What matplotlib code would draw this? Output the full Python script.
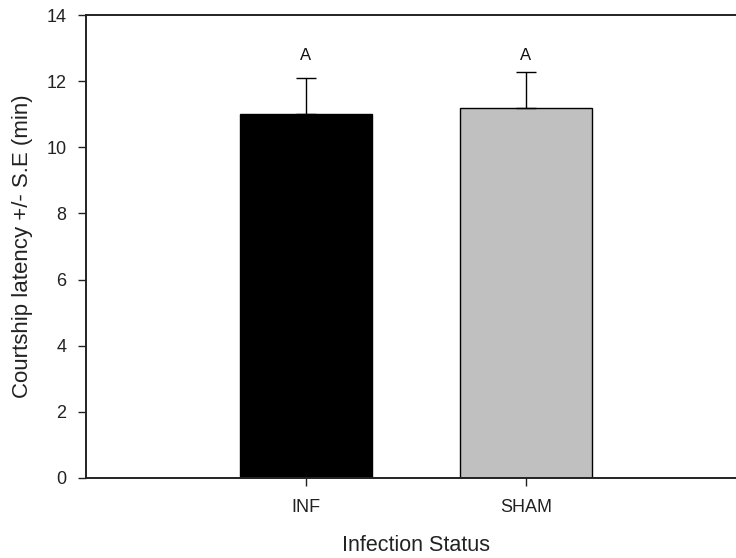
import matplotlib
matplotlib.use("Agg")
import matplotlib.pyplot as plt

plt.rcParams['font.family'] = ['Liberation Sans', 'DejaVu Sans']

categories = ["INF", "SHAM"]
means = [11.0, 11.2]
std_errors = [1.08, 1.09]
group_letters = ["A", "A"]
bar_colors = ["#000000", "#c0c0c0"]
y_ticks = [0, 2, 4, 6, 8, 10, 12, 14]

fig = plt.figure(figsize=(7.36, 5.58), dpi=100)
ax = fig.add_axes([86 / 736, 80 / 558, 660 / 736, 463 / 558])

positions = [1, 2]
ax.bar(positions, means, width=0.6, color=bar_colors, edgecolor="black",
       linewidth=1.0, zorder=2)
ax.errorbar(positions, means, yerr=[[0, 0], std_errors], fmt="none",
            ecolor="black", elinewidth=1.0, capsize=7, capthick=1.0, zorder=3)

# significance-group letters share one row above the bars
letter_row = 12.55
for x, letter in zip(positions, group_letters):
    ax.text(x, letter_row, letter, ha="center", va="bottom", fontsize=12,
            color="#111111")

ax.set_xlim(0, 3)
ax.set_ylim(0, 14)
ax.set_xticks(positions)
ax.set_xticklabels(categories)
ax.set_yticks(y_ticks)
ax.set_yticklabels([str(t) for t in y_ticks])

ax.tick_params(axis="both", direction="out", length=6, width=1.0,
               labelsize=13, colors="#222222")
ax.tick_params(axis="y", pad=8)
ax.tick_params(axis="x", pad=9)

for side in ["left", "bottom", "top"]:
    ax.spines[side].set_linewidth(1.4)
    ax.spines[side].set_color("#222222")
ax.spines["right"].set_visible(False)

ax.set_xlabel("Infection Status", fontsize=15.5, labelpad=14, color="#222222")
ax.set_ylabel("Courtship latency +/- S.E (min)", fontsize=16, labelpad=10,
              color="#222222")

fig.savefig("out.png", dpi=100)
